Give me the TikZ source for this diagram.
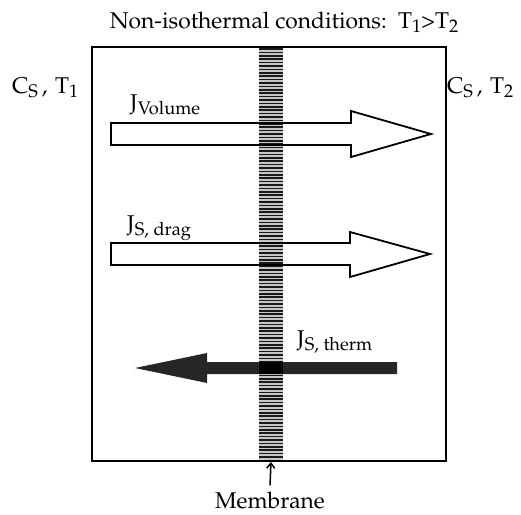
\documentclass[tikz,border=0pt]{standalone}
\usepackage[T1]{fontenc}
\usepackage{mathpazo}
\usetikzlibrary{arrows.meta}

% lowered subscript in text size
\newcommand{\lowsub}[1]{\raisebox{-4pt}{\fontsize{16}{18}\selectfont #1}}

\begin{document}
\begin{tikzpicture}[x=1pt, y=-1pt,
    % Outline, flux arrows and labels
    wall/.style={draw=black, line width=2pt, inner sep=0pt},
    flux/.style={draw=black, line width=1.8pt, line join=miter},
    thermflux/.style={fill=black!85, draw=none},
    lbl/.style={font=\fontsize{20}{24}\selectfont, scale=1.14, inner sep=0pt},
    stripe/.style={line width=1.5pt, draw=black!90}
]
\useasboundingbox (0,0) rectangle (521,514);

% ---------------------------------------------------------
% 1. CELL AND MEMBRANE
% ---------------------------------------------------------
\fill[gray!45] (259,47) rectangle (283,461);
\foreach \y in {49,52.4,...,460} \draw[stripe] (259,\y) -- (283,\y);
\coordinate (stripfoot) at (271,462);

% ---------------------------------------------------------
% 2. FLUXES
% ---------------------------------------------------------
% Volume flux
\draw[flux] (111,123) -- (351,123) -- (351,111) -- (431,134) -- (351,157) -- (351,145) -- (111,145) -- cycle;
\node[lbl, anchor=base west] (jvol) at (130,110) {J\lowsub{Volume}};

% Solute drag flux
\draw[flux] (111,243) -- (350,243) -- (350,232) -- (430,254) -- (350,277) -- (350,265) -- (111,265) -- cycle;
\node[lbl, anchor=base west] (jdrag) at (127,231) {J\lowsub{S, drag}};

% Thermal solute flux
\fill[thermflux] (397,362) -- (207,362) -- (207,353) -- (135,368) -- (207,383) -- (207,374) -- (397,374) -- cycle;
\fill[black] (259,362) rectangle (283,374);
\node[lbl, anchor=base west] (jtherm) at (297,346) {J\lowsub{S, therm}};

% ---------------------------------------------------------
% 3. FRAME AND SIDE LABELS
% ---------------------------------------------------------
\node[wall, minimum width=354pt, minimum height=414pt] (cell) at (269,254) {};

\node[lbl, anchor=base] (title) at (284,28) {Non-isothermal conditions:~~T\lowsub{1}>T\lowsub{2}};
\node[lbl, anchor=base west] (left) at (12,93) {C\lowsub{S}\,,\,\,T\lowsub{1}};
\node[lbl, anchor=base west] (right) at (447,93) {C\lowsub{S}\,,\,\,T\lowsub{2}};

\node[lbl, anchor=base] (membrane) at (270,508) {Membrane};
\draw[line width=1.5pt, -{Straight Barb[length=5pt, width=8pt]}] (membrane.north) ++(0,-6) -- (stripfoot);

\end{tikzpicture}
\end{document}
